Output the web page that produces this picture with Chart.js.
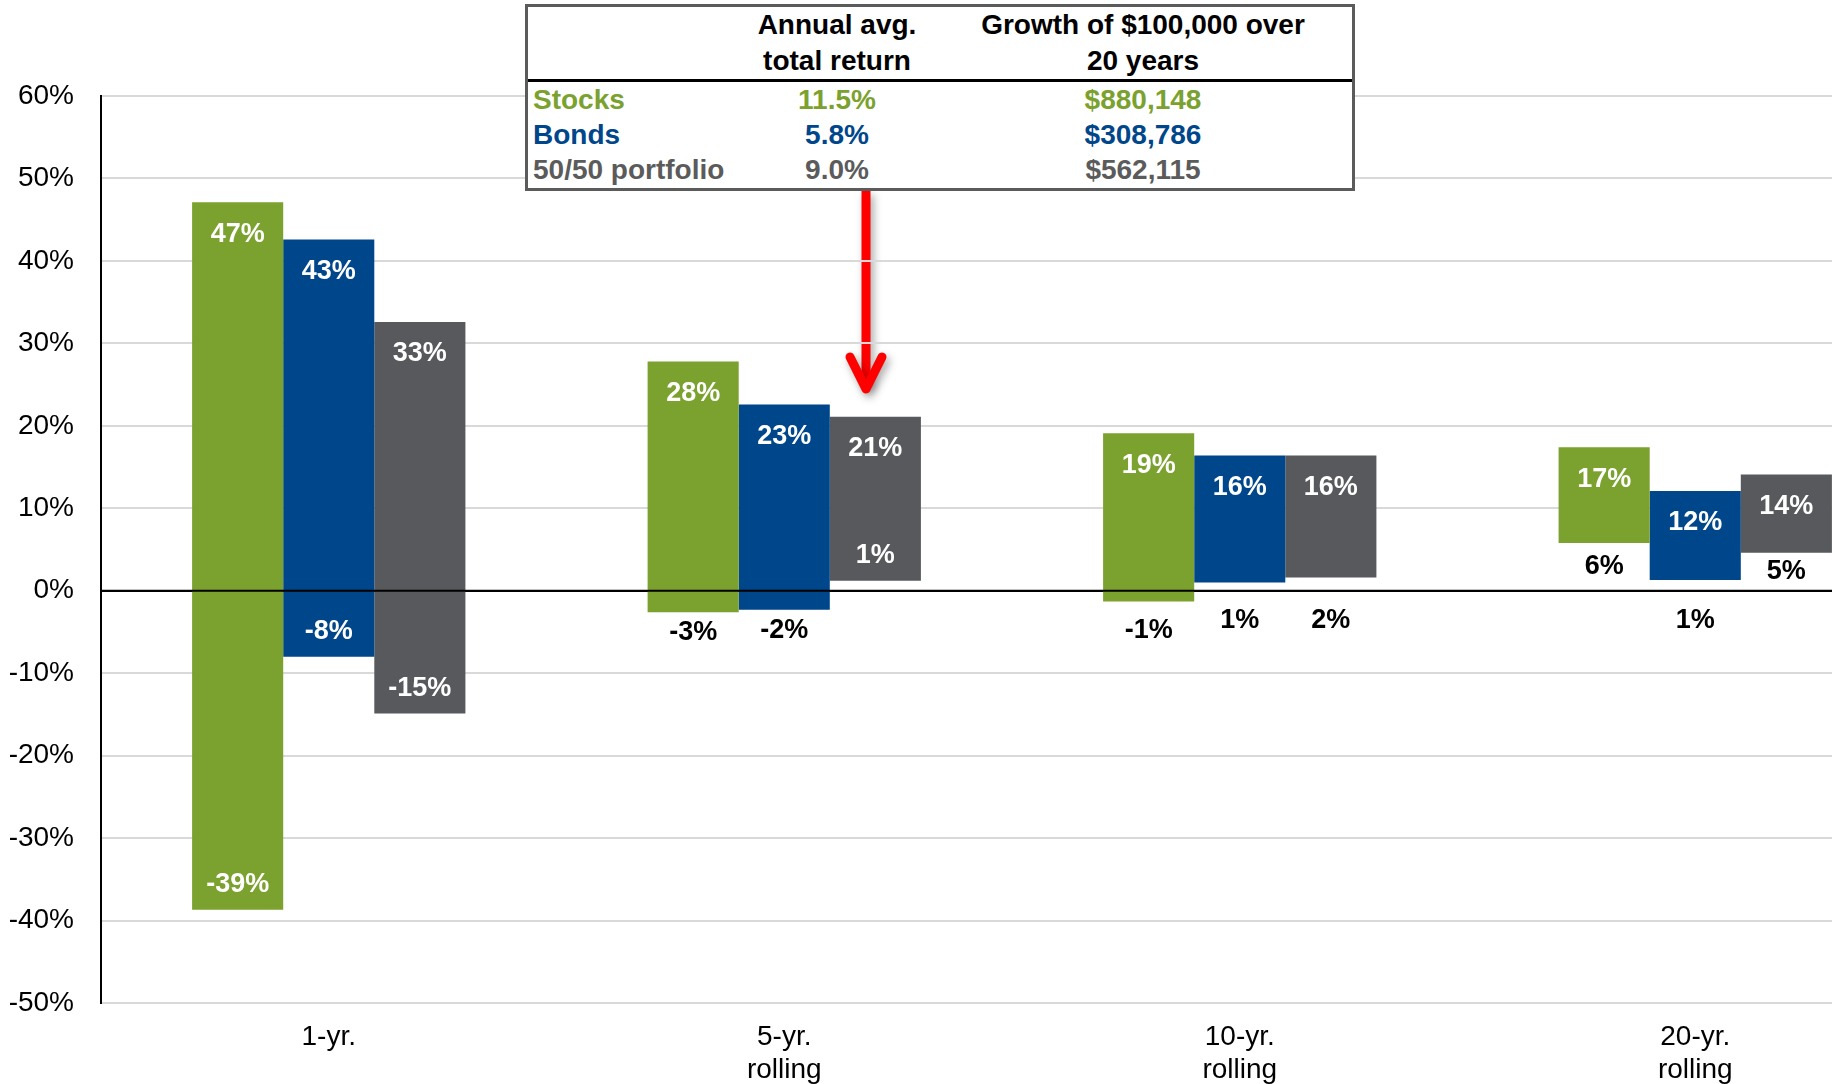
<!DOCTYPE html>
<html>
<head>
<meta charset="utf-8">
<script src="https://cdn.jsdelivr.net/npm/chart.js@4.4.1/dist/chart.umd.min.js"></script>
<style>
  html, body { margin: 0; padding: 0; background: #fff; }
  body { width: 1838px; height: 1084px; overflow: hidden; position: relative;
         font-family: "Liberation Sans", Arial, sans-serif; }
  #wrap { position: absolute; left: 0; top: 0; width: 1832px; height: 1084px; overflow: hidden; }
  #tbl { position: absolute; left: 525px; top: 4px; width: 830px; height: 187px;
         box-sizing: border-box; border: 3px solid #5b5b5b; background: #fff;
         font-weight: bold; font-size: 28px; }
  #tbl .hdr { height: 72px; border-bottom: 3px solid #000; display: grid;
              grid-template-columns: 200px 218px 394px; }
  #tbl .hdr div { line-height: 36px; text-align: center; color: #000; white-space: nowrap; }
  #tbl .row { height: 35px; line-height: 35px; display: grid;
              grid-template-columns: 200px 218px 394px; }
  #tbl .row div { text-align: center; white-space: nowrap; }
  #tbl .row div:first-child { text-align: left; padding-left: 5px; }
</style>
</head>
<body>
<div id="wrap"><canvas id="chart" width="1923" height="1084"></canvas></div>
<div id="tbl"></div>
<script>
// categories and series (floating bars: low .. high of rolling returns, %)
const periods = [['1-yr.'], ['5-yr.', 'rolling'], ['10-yr.', 'rolling'], ['20-yr.', 'rolling']];
const stocksHigh = [47.1, 27.8, 19.1, 17.4];
const stocksLow = [-38.7, -2.6, -1.3, 5.8];
const bondsHigh = [42.6, 22.6, 16.4, 12.1];
const bondsLow = [-8.0, -2.3, 1.0, 1.3];
const blendHigh = [32.6, 21.1, 16.4, 14.1];
const blendLow = [-14.9, 1.2, 1.6, 4.6];

// summary table
const tableNames = ['Stocks', 'Bonds', '50/50 portfolio'];
const tableAvg = ['11.5%', '5.8%', '9.0%'];
const tableGrowth = ['$880,148', '$308,786', '$562,115'];

const GREEN = '#7ba12f';
const BLUE = '#00468a';
const GRAY = '#57595c';
const TEXT_COLORS = ['#7ba12f', '#00468a', '#5b5b5b'];

// where the low label sits: inside the bar or under it
const lowInside = [
  [true, false, false, false],
  [true, false, false, false],
  [true, true, false, false]
];

const FONT = '"Liberation Sans", Arial, sans-serif';
Chart.defaults.font.family = FONT;

function pct(v) { return Math.round(v) + '%'; }
function pairs(lo, hi) { return lo.map((v, i) => [v, hi[i]]); }

// build table
const tbl = document.getElementById('tbl');
let html = '<div class="hdr"><div></div><div>Annual avg.<br>total return</div>' +
           '<div>Growth of $100,000 over<br>20 years</div></div>';
tableNames.forEach((n, i) => {
  const c = TEXT_COLORS[i];
  html += `<div class="row" style="color:${c}"><div>${n}</div><div>${tableAvg[i]}</div><div>${tableGrowth[i]}</div></div>`;
});
tbl.innerHTML = html;

function drawArrow(ctx) {
  ctx.save();
  ctx.shadowColor = 'rgba(0,0,0,0.35)';
  ctx.shadowBlur = 8;
  ctx.shadowOffsetX = 3;
  ctx.shadowOffsetY = 4;
  ctx.strokeStyle = '#ff0000';
  ctx.lineWidth = 9;
  ctx.beginPath();
  ctx.moveTo(866, 191);
  ctx.lineTo(866, 386);
  ctx.stroke();
  ctx.lineWidth = 9;
  ctx.lineCap = 'round';
  ctx.lineJoin = 'round';
  ctx.beginPath();
  ctx.moveTo(850, 357);
  ctx.lineTo(866, 389);
  ctx.lineTo(882, 357);
  ctx.stroke();
  ctx.restore();
}

const barLabels = {
  id: 'barLabels',
  beforeDraw(chart) { drawArrow(chart.ctx); },
  afterDatasetsDraw(chart) {
    const ctx = chart.ctx;
    const area = chart.chartArea;
    const zeroY = chart.scales.y.getPixelForValue(0);
    ctx.save();
    ctx.strokeStyle = '#000';
    ctx.lineWidth = 2;
    ctx.beginPath();
    ctx.moveTo(area.left, zeroY);
    ctx.lineTo(area.right, zeroY);
    ctx.stroke();

    ctx.font = 'bold 27px ' + FONT;
    ctx.textAlign = 'center';
    ctx.textBaseline = 'middle';
    chart.data.datasets.forEach((ds, i) => {
      chart.getDatasetMeta(i).data.forEach((bar, j) => {
        const lo = ds.data[j][0], hi = ds.data[j][1];
        const top = Math.min(bar.y, bar.base);
        const bottom = Math.max(bar.y, bar.base);
        ctx.fillStyle = '#fff';
        ctx.fillText(pct(hi), bar.x, top + 32);
        if (lowInside[i][j]) {
          ctx.fillText(pct(lo), bar.x, bottom - 25);
          return;
        }
        ctx.fillStyle = '#000';
        let ly;
        if (bottom > zeroY) ly = Math.max(bottom + 20, zeroY + 40);
        else if (zeroY - bottom > 30) ly = (bottom + zeroY) / 2;
        else ly = zeroY + 30;
        ctx.fillText(pct(lo), bar.x, ly);
      });
    });
    ctx.restore();
  }
};

new Chart(document.getElementById('chart'), {
  type: 'bar',
  data: {
    labels: periods,
    datasets: [
      { label: 'Stocks', data: pairs(stocksLow, stocksHigh), backgroundColor: GREEN },
      { label: 'Bonds', data: pairs(bondsLow, bondsHigh), backgroundColor: BLUE },
      { label: '50/50 portfolio', data: pairs(blendLow, blendHigh), backgroundColor: GRAY }
    ]
  },
  options: {
    responsive: false,
    animation: false,
    devicePixelRatio: 1,
    layout: { padding: { top: 96, right: 0, bottom: 0, left: 0 } },
    datasets: { bar: { categoryPercentage: 0.6, barPercentage: 1.0, borderSkipped: false } },
    plugins: { legend: { display: false }, tooltip: { enabled: false } },
    scales: {
      x: {
        grid: { display: false, drawTicks: false },
        border: { display: false },
        ticks: { color: '#000', font: { size: 28 }, padding: 17, maxRotation: 0 },
        afterFit(s) { s.height = 81; }
      },
      y: {
        min: -50,
        max: 60,
        ticks: { stepSize: 10, color: '#000', font: { size: 28 }, padding: 27,
                 callback: v => v + '%' },
        grid: { color: c => c.tick && c.tick.value === 0 ? '#000' : '#d9d9d9',
                lineWidth: 2, drawTicks: false },
        border: { display: true, color: '#000', width: 2 },
        afterFit(s) { s.width = 101; }
      }
    }
  },
  plugins: [barLabels]
});
</script>
</body>
</html>
